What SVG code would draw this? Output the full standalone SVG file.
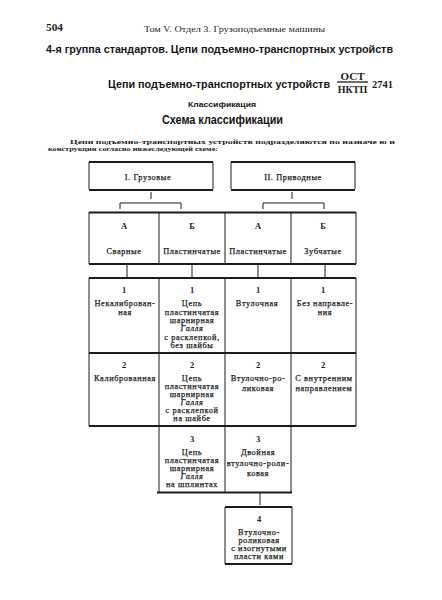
<svg xmlns="http://www.w3.org/2000/svg" width="442" height="600" viewBox="0 0 442 600">
<style>
.t{font-family:"Liberation Serif","DejaVu Serif",serif;fill:#1c1c1c}
.c{font-size:8.3px;letter-spacing:0.6px;text-anchor:middle;stroke:#1c1c1c;stroke-width:0.25}
.n{font-size:8.5px;font-weight:bold;text-anchor:middle}
.h{font-family:"Liberation Sans","DejaVu Sans",sans-serif;font-weight:bold;fill:#151515}
.hl{stroke:#1c1c1c;stroke-width:1.8;fill:none}
.vl{stroke:#1c1c1c;stroke-width:1;fill:none}
.cn{stroke:#1c1c1c;stroke-width:1;fill:none}
</style>
<rect width="442" height="600" fill="#ffffff"/>

<!-- header -->
<text class="t" x="46" y="31" font-size="9.5" font-weight="bold" textLength="17" lengthAdjust="spacingAndGlyphs">504</text>
<text class="t" x="144" y="31.5" font-size="7.5" textLength="181" lengthAdjust="spacingAndGlyphs">Том V. Отдел 3. Грузоподъемные машины</text>
<text class="h" x="46" y="53" font-size="11" textLength="347" lengthAdjust="spacingAndGlyphs">4-я группа стандартов. Цепи подъемно-транспортных устройств</text>
<text class="h" x="108" y="87.5" font-size="11" textLength="222" lengthAdjust="spacingAndGlyphs">Цепи подъемно-транспортных устройств</text>
<text class="t" x="352.5" y="80" font-size="11" font-weight="bold" text-anchor="middle">ОСТ</text>
<line x1="337" y1="82" x2="368" y2="82" stroke="#1c1c1c" stroke-width="1.3"/>
<text class="t" x="352.5" y="92.5" font-size="10" font-weight="bold" text-anchor="middle">НКТП</text>
<text class="t" x="372" y="87.5" font-size="10" font-weight="bold" textLength="21" lengthAdjust="spacingAndGlyphs">2741</text>
<text class="h" x="188" y="107" font-size="8" textLength="68" lengthAdjust="spacingAndGlyphs">Классификация</text>
<text class="h" x="162" y="124" font-size="12" textLength="121" lengthAdjust="spacingAndGlyphs">Схема классификации</text>
<text class="t" x="70" y="144" font-size="6.6" font-weight="bold" textLength="325" lengthAdjust="spacingAndGlyphs">Цепи подъемно-транспортных устройств подразделяются по назначе ю и</text>
<text class="t" x="48" y="151" font-size="6.6" font-weight="bold" textLength="170" lengthAdjust="spacingAndGlyphs">конструкции согласно нижеследующей схеме:</text>

<!-- connectors -->
<g id="connectors">
  <path class="cn" d="M151 192V199M120 209V203H181V209"/>
  <path class="cn" d="M292 192V199M263 209V203H324V209"/>
  <path class="cn" d="M127 265V277M192 265V277M258 265V277M325 265V277"/>
  <path class="cn" d="M260 493V505"/>
</g>

<!-- top level -->
<g id="node-I">
  <path class="vl" d="M89 162V189M213 162V189"/>
  <path class="hl" d="M89 162H213M89 190H213"/>
  <text class="t c" x="148" y="179.5">I. Грузовые</text>
</g>
<g id="node-II">
  <path class="vl" d="M231 162V189M355 162V189"/>
  <path class="hl" d="M231 162H355M231 190H355"/>
  <text class="t c" x="293" y="179.5">II. Приводные</text>
</g>

<!-- row 1 -->
<g id="row1-frame">
  <path class="hl" d="M89 212.5H356M89 264H356"/>
  <path class="vl" d="M89 212V264M159 212V264M225 212V264M291 212V264M356 212V264"/>
</g>
<g id="node-A-svarnye">
  <text class="t n" x="124" y="229">А</text>
  <text class="t c" x="124" y="254">Сварные</text>
</g>
<g id="node-B-plast1">
  <text class="t n" x="192" y="229">Б</text>
  <text class="t c" x="192" y="254" letter-spacing="0.3">Пластинчатые</text>
</g>
<g id="node-A-plast2">
  <text class="t n" x="258" y="229">А</text>
  <text class="t c" x="258" y="254" letter-spacing="0.3">Пластинчатые</text>
</g>
<g id="node-B-zub">
  <text class="t n" x="323" y="229">Б</text>
  <text class="t c" x="323" y="254">Зубчатые</text>
</g>

<!-- rows 2 -->
<g id="row2-frame">
  <path class="hl" d="M89 278H356M89 353H356M89 426H356"/>
  <path class="vl" d="M89 278V426M159 278V426M225 278V426M291 278V426M356 278V426"/>
</g>
<g id="node-1-1">
  <text class="t n" x="124" y="293">1</text>
  <text class="t c" x="125" y="306" letter-spacing="0.3">Некалиброван-</text>
  <text class="t c" x="125" y="315">ная</text>
</g>
<g id="node-1-2">
  <text class="t n" x="192" y="293">1</text>
  <text class="t c" x="192" y="306">Цепь</text>
  <text class="t c" x="192" y="314.5">пластинчатая</text>
  <text class="t c" x="192" y="322.5">шарнирная</text>
  <text class="t c" x="192" y="331" font-style="italic">Галля</text>
  <text class="t c" x="192" y="340">с расклепкой,</text>
  <text class="t c" x="192" y="348">без шайбы</text>
</g>
<g id="node-1-3">
  <text class="t n" x="258" y="293">1</text>
  <text class="t c" x="257" y="306">Втулочная</text>
</g>
<g id="node-1-4">
  <text class="t n" x="323" y="293">1</text>
  <text class="t c" x="325" y="306" letter-spacing="0.3">Без направле-</text>
  <text class="t c" x="325" y="315">ния</text>
</g>
<g id="node-2-1">
  <text class="t n" x="124" y="368">2</text>
  <text class="t c" x="125" y="381" letter-spacing="0.2">Калиброванная</text>
</g>
<g id="node-2-2">
  <text class="t n" x="192" y="368">2</text>
  <text class="t c" x="192" y="381">Цепь</text>
  <text class="t c" x="192" y="389">пластинчатая</text>
  <text class="t c" x="192" y="396.5">шарнирная</text>
  <text class="t c" x="192" y="404.5" font-style="italic">Галля</text>
  <text class="t c" x="192" y="413">с расклепкой</text>
  <text class="t c" x="192" y="421">на шайбе</text>
</g>
<g id="node-2-3">
  <text class="t n" x="258" y="368">2</text>
  <text class="t c" x="258" y="381" letter-spacing="0.3">Втулочно-ро-</text>
  <text class="t c" x="258" y="391">ликовая</text>
</g>
<g id="node-2-4">
  <text class="t n" x="323" y="368">2</text>
  <text class="t c" x="324" y="381" letter-spacing="0.3">С внутренним</text>
  <text class="t c" x="324" y="391" letter-spacing="0.2">направлением</text>
</g>

<!-- row 3 -->
<g id="row3-frame">
  <path class="hl" d="M157 492.5H292"/>
  <path class="vl" d="M159 426V492M225 426V492M291 426V492"/>
</g>
<g id="node-3-2">
  <text class="t n" x="192" y="442">3</text>
  <text class="t c" x="192" y="454.5">Цепь</text>
  <text class="t c" x="192" y="462.5">пластинчатая</text>
  <text class="t c" x="192" y="470.5">шарнирная</text>
  <text class="t c" x="192" y="478.5" font-style="italic">Галля</text>
  <text class="t c" x="192" y="486.5">на шплинтах</text>
</g>
<g id="node-3-3">
  <text class="t n" x="258" y="442">3</text>
  <text class="t c" x="258" y="455">Двойная</text>
  <text class="t c" x="258" y="466" letter-spacing="0.3">втулочно-роли-</text>
  <text class="t c" x="258" y="476">ковая</text>
</g>

<!-- node 4 -->
<g id="node-4">
  <path class="vl" d="M225 507V564M292 507V564"/>
  <path class="hl" d="M225 507H292M225 564H292"/>
  <text class="t n" x="259" y="522">4</text>
  <text class="t c" x="259" y="534.5">Втулочно-</text>
  <text class="t c" x="259" y="542.5">роликовая</text>
  <text class="t c" x="259" y="550.5" letter-spacing="0.3">с изогнутыми</text>
  <text class="t c" x="259" y="559">пласти ками</text>
</g>
</svg>
